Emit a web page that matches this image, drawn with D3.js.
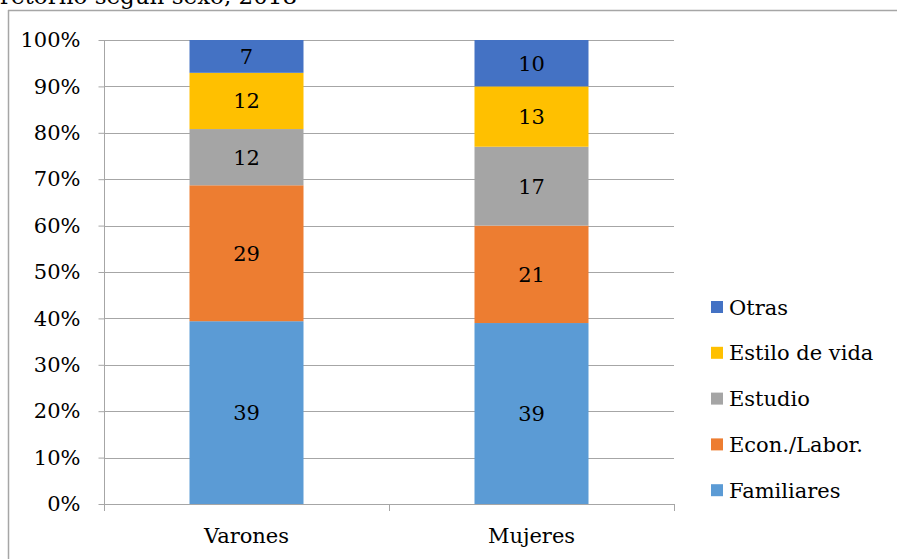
<!DOCTYPE html>
<html>
<head>
<meta charset="utf-8">
<script src="https://cdn.jsdelivr.net/npm/d3@7"></script>
<style>
  html, body { margin: 0; padding: 0; background: #fff; }
  svg { display: block; }
  text { font-family: "DejaVu Serif", "Liberation Serif", serif; fill: #000; }
</style>
</head>
<body>
<svg id="chart" width="897" height="559"></svg>
<script>
// Motivos de retorno según sexo (valores en %, apilados al 100%)
const categories = ["Varones", "Mujeres"];
const seriesNames = ["Familiares", "Econ./Labor.", "Estudio", "Estilo de vida", "Otras"];
const familiares = [39, 39];
const econLabor = [29, 21];
const estudio = [12, 17];
const estiloVida = [12, 13];
const otras = [7, 10];
const yTicks = [0, 0.1, 0.2, 0.3, 0.4, 0.5, 0.6, 0.7, 0.8, 0.9, 1.0];
const colors = ["#5B9BD5", "#ED7D31", "#A5A5A5", "#FFC000", "#4472C4"];
const titleText = "retorno según sexo, 2018";

const seriesValues = [familiares, econLabor, estudio, estiloVida, otras];
const rows = categories.map((c, i) => {
  const r = { cat: c };
  seriesNames.forEach((s, j) => { r[s] = seriesValues[j][i]; });
  return r;
});

const svg = d3.select("#chart");
const W = 897, H = 559;
const plot = { left: 104, right: 674, top: 40, bottom: 504 };
const fs = 21;

// Frame lines (left and top edges)
svg.append("line").attr("x1", 8.5).attr("x2", 8.5).attr("y1", 10).attr("y2", H)
  .attr("stroke", "#A6A6A6").attr("stroke-width", 1.5);
svg.append("line").attr("x1", 8).attr("x2", W).attr("y1", 10.5).attr("y2", 10.5)
  .attr("stroke", "#A6A6A6").attr("stroke-width", 1.5);

// Title (second line of a wrapped heading, running off the top edge)
svg.append("text").attr("x", 0).attr("y", 4).attr("font-size", 23).text(titleText);

const x = d3.scaleBand().domain(categories).range([plot.left, plot.right])
  .paddingInner(0.6).paddingOuter(0.3);
const y = d3.scaleLinear().domain([0, 1]).range([plot.bottom, plot.top]);

// Gridlines
svg.append("g").selectAll("line").data(yTicks.slice(1)).join("line")
  .attr("x1", plot.left).attr("x2", plot.right)
  .attr("y1", d => Math.round(y(d)) + 0.5).attr("y2", d => Math.round(y(d)) + 0.5)
  .attr("stroke", "#A6A6A6").attr("stroke-width", 1);

// Stacked bars normalised to 100%
const stack = d3.stack().keys(seriesNames).offset(d3.stackOffsetExpand);
const layers = stack(rows);

const gBars = svg.append("g");
layers.forEach((layer, j) => {
  gBars.append("g").attr("fill", colors[j]).selectAll("rect").data(layer).join("rect")
    .attr("x", d => x(d.data.cat))
    .attr("width", x.bandwidth())
    .attr("y", d => y(d[1]))
    .attr("height", d => y(d[0]) - y(d[1]));
});

// Value labels
layers.forEach((layer, j) => {
  svg.append("g").selectAll("text").data(layer).join("text")
    .attr("x", d => x(d.data.cat) + x.bandwidth() / 2)
    .attr("y", d => (y(d[0]) + y(d[1])) / 2)
    .attr("dy", "0.36em")
    .attr("text-anchor", "middle")
    .attr("font-size", fs)
    .text(d => d.data[layer.key]);
});

// Y axis
const yAxis = d3.axisLeft(y).tickValues(yTicks).tickFormat(d3.format(".0%")).tickSize(6).tickPadding(18);
const gy = svg.append("g").attr("transform", `translate(${plot.left + 0.5},0)`).call(yAxis);
gy.select(".domain").remove();
gy.selectAll(".tick line").attr("stroke", "#A6A6A6");
gy.selectAll(".tick text").attr("font-size", fs).attr("font-family", "DejaVu Serif").attr("fill", "#000");
svg.append("line").attr("x1", plot.left + 0.5).attr("x2", plot.left + 0.5)
  .attr("y1", plot.top).attr("y2", plot.bottom + 7).attr("stroke", "#A6A6A6");

// X axis baseline with category boundary ticks
const gap = (x.step() - x.bandwidth()) / 2;
const boundaries = [x(categories[0]) - gap].concat(categories.map(c => x(c) + x.bandwidth() + gap));
svg.append("line").attr("x1", plot.left).attr("x2", plot.right)
  .attr("y1", plot.bottom + 0.5).attr("y2", plot.bottom + 0.5).attr("stroke", "#A6A6A6");
svg.append("g").selectAll("line").data(boundaries).join("line")
  .attr("x1", d => Math.round(d) + 0.5).attr("x2", d => Math.round(d) + 0.5)
  .attr("y1", plot.bottom).attr("y2", plot.bottom + 7).attr("stroke", "#A6A6A6");
svg.append("g").selectAll("text").data(categories).join("text")
  .attr("x", d => x(d) + x.bandwidth() / 2)
  .attr("y", 543)
  .attr("text-anchor", "middle")
  .attr("font-size", fs)
  .text(d => d);

// Legend (top to bottom: reverse stack order)
const legendItems = seriesNames.map((s, j) => ({ name: s, color: colors[j] })).reverse();
const legend = svg.append("g");
legendItems.forEach((it, i) => {
  const cy = 307 + i * 45.8;
  legend.append("rect").attr("x", 711).attr("y", cy - 6).attr("width", 12).attr("height", 12).attr("fill", it.color);
  legend.append("text").attr("x", 729).attr("y", cy).attr("dy", "0.36em").attr("font-size", fs).text(it.name);
});
</script>
</body>
</html>
